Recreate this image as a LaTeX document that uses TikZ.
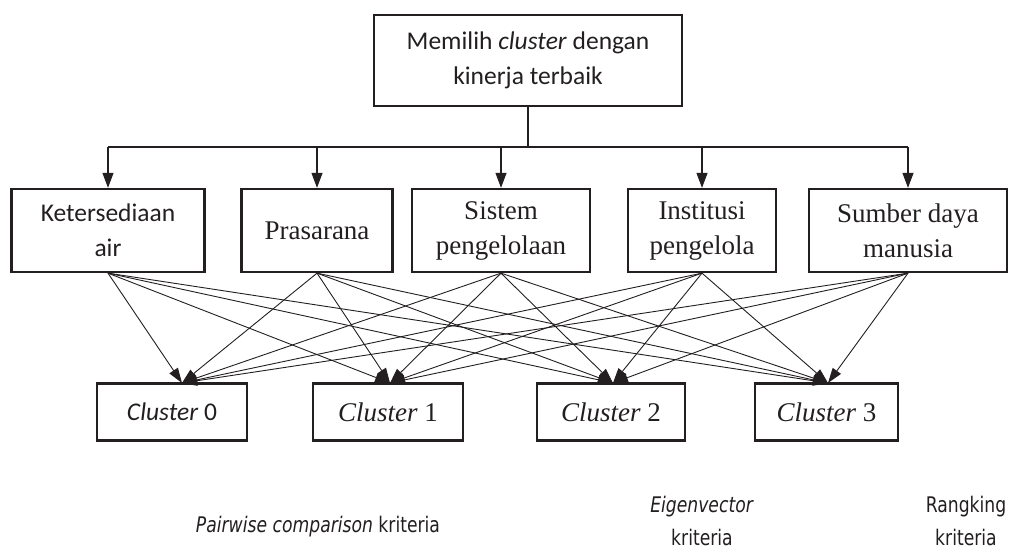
\documentclass[tikz,border=0pt]{standalone}
\usepackage{fontspec}
\setmainfont{Liberation Serif}
\newfontfamily\calib{Carlito}
\newfontfamily\tahomish[FakeStretch=0.80]{DejaVu Sans}
\usetikzlibrary{arrows.meta}
\definecolor{ink}{HTML}{231F20}
\begin{document}
\begin{tikzpicture}[x=1pt,y=-1pt,
  box/.style={draw=ink, line width=2.3pt, rectangle, inner sep=0pt, align=center, text=ink},
  sansbox/.style={box, font=\calib\fontsize{25.5}{35}\selectfont},
  serifbox/.style={box, font=\fontsize{27}{35}\selectfont},
  conn/.style={draw=ink, line width=1.1pt},
  tip/.style={conn, -{Triangle[length=15pt,width=11pt]}},
  xtip/.style={draw=ink, line width=0.9pt, -{Triangle[length=15pt,width=10pt]}},
  lbl/.style={align=center, text=ink, inner sep=0pt, font=\tahomish\fontsize{21.5}{33}\selectfont}
]
\useasboundingbox (0,0) rectangle (1015,556);
% top goal
\node[sansbox, minimum width=308pt, minimum height=91pt] (goal) at (528,60.5)
  {Memilih \textit{cluster} dengan\\kinerja terbaik};
% criteria
\node[sansbox, minimum width=193pt, minimum height=83pt] (k1) at (108,230.5) {Ketersediaan\\air};
\node[serifbox, minimum width=151pt, minimum height=83pt] (k2) at (317,230.5) {Prasarana};
\node[serifbox, minimum width=178pt, minimum height=83pt] (k3) at (501,230.5) {Sistem\\pengelolaan};
\node[serifbox, minimum width=148pt, minimum height=83pt] (k4) at (702,230.5) {Institusi\\pengelola};
\node[serifbox, minimum width=198pt, minimum height=83pt] (k5) at (908,230.5) {Sumber daya\\manusia};
% clusters
\node[box, font=\calib\fontsize{25.5}{30}\selectfont, minimum width=150pt, minimum height=57pt] (c0) at (172,412) {\textit{Cluster} 0};
\node[serifbox, minimum width=150pt, minimum height=57pt] (c1) at (388,412) {\textit{Cluster} 1};
\node[serifbox, minimum width=148pt, minimum height=57pt] (c2) at (611,412) {\textit{Cluster} 2};
\node[serifbox, minimum width=143pt, minimum height=57pt] (c3) at (826.5,412) {\textit{Cluster} 3};
% target points on cluster tops
\coordinate (t0) at (182,383);
\coordinate (t1) at (390,383);
\coordinate (t2) at (613,383);
\coordinate (t3) at (828,383);
% bus
\coordinate (bus) at (528,147);
\draw[conn] (goal.south) -- (bus);
\draw[conn] (k1.north |- bus) -- (k5.north |- bus);
\foreach \k in {k1,k2,k3,k4,k5}{
  \draw[tip] (\k.north |- bus) -- (\k.north);
}
% cross connections
\foreach \k in {k1,k2,k3,k4,k5}{
  \foreach \t in {t0,t1,t2,t3}{
    \draw[xtip] (\k.south) -- (\t);
  }
}
% bottom labels
\node[lbl] (pw) at (318,527) {\textit{Pairwise comparison} kriteria};
\node[lbl] (ev) at (702,521) {\textit{Eigenvector}\\kriteria};
\node[lbl] (rk) at (966,521) {Rangking\\kriteria};
\end{tikzpicture}
\end{document}
